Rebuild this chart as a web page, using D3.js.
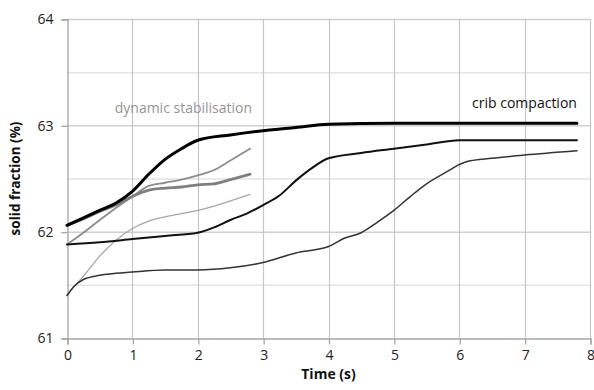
<!DOCTYPE html>
<html>
<head>
<meta charset="utf-8">
<script src="https://cdn.jsdelivr.net/npm/d3@7"></script>
<style>
  html, body { margin: 0; padding: 0; background: #fff; }
  svg { display: block; }
  text { font-family: "Open Sans", "Liberation Sans", sans-serif; }
</style>
</head>
<body>
<svg id="chart" width="594" height="390"></svg>
<script>
// ---- data ----
const xTicks = [0, 1, 2, 3, 4, 5, 6, 7, 8];
const yTicks = [61, 62, 63, 64];
const yMinorTicks = [61.5, 62.5, 63.5];

// crib compaction curves
const cribTopT = [0, 0.25, 0.5, 0.75, 1, 1.25, 1.5, 1.75, 2, 2.5, 3, 3.5, 4, 5, 6, 7, 7.8];
const cribTopV = [62.06, 62.13, 62.20, 62.27, 62.38, 62.54, 62.68, 62.78, 62.86, 62.91, 62.95, 62.98, 63.01, 63.02, 63.02, 63.02, 63.02];

const cribMidT = [0, 0.5, 1, 1.5, 2, 2.25, 2.5, 2.75, 3, 3.25, 3.5, 3.75, 4, 4.5, 5, 5.5, 6, 7, 7.8];
const cribMidV = [61.88, 61.90, 61.93, 61.96, 61.99, 62.04, 62.11, 62.17, 62.25, 62.34, 62.48, 62.60, 62.69, 62.74, 62.78, 62.82, 62.86, 62.86, 62.86];

const cribLowT = [0, 0.1, 0.25, 0.5, 1, 1.5, 2, 2.5, 3, 3.5, 4, 4.25, 4.5, 4.75, 5, 5.25, 5.5, 5.8, 6, 6.12, 6.5, 7, 7.8];
const cribLowV = [61.40, 61.48, 61.55, 61.59, 61.62, 61.64, 61.64, 61.66, 61.71, 61.80, 61.86, 61.94, 61.99, 62.09, 62.20, 62.33, 62.45, 62.56, 62.63, 62.66, 62.69, 62.72, 62.76];

// dynamic stabilisation curves
const dynAT = [0, 0.25, 0.5, 1, 1.25, 1.5, 1.75, 2, 2.25, 2.5, 2.8];
const dynAV = [61.88, 61.99, 62.11, 62.33, 62.43, 62.46, 62.49, 62.53, 62.58, 62.67, 62.78];

const dynBT = [0, 0.25, 0.5, 0.75, 1, 1.25, 1.5, 1.75, 2, 2.25, 2.5, 2.8];
const dynBV = [62.06, 62.12, 62.19, 62.25, 62.33, 62.39, 62.41, 62.42, 62.44, 62.45, 62.49, 62.54];

const dynCT = [0, 0.1, 0.25, 0.5, 0.75, 1, 1.25, 1.5, 1.75, 2, 2.25, 2.5, 2.8];
const dynCV = [61.40, 61.48, 61.58, 61.77, 61.92, 62.03, 62.10, 62.14, 62.17, 62.20, 62.24, 62.29, 62.35];

const seriesList = [
  { t: dynCT, v: dynCV, color: "#a6a6a6", width: 1.3 },
  { t: dynAT, v: dynAV, color: "#8c8c8c", width: 1.8 },
  { t: dynBT, v: dynBV, color: "#7f7f7f", width: 2.8 },
  { t: cribLowT, v: cribLowV, color: "#333333", width: 1.5 },
  { t: cribMidT, v: cribMidV, color: "#111111", width: 2.0 },
  { t: cribTopT, v: cribTopV, color: "#000000", width: 3.0 }
];

// ---- layout ----
const svg = d3.select("#chart");
const plot = { left: 67, right: 590, top: 19, bottom: 338 };

const x = d3.scaleLinear().domain([0, 8]).range([plot.left, plot.right]);
const y = d3.scaleLinear().domain([61, 64]).range([plot.bottom, plot.top]);

// minor horizontal gridlines
svg.append("g").selectAll("line").data(yMinorTicks).join("line")
  .attr("x1", plot.left).attr("x2", plot.right)
  .attr("y1", d => y(d) + 0.5).attr("y2", d => y(d) + 0.5)
  .attr("stroke", "#e3e3e3").attr("stroke-width", 1.5);

// major horizontal gridlines
svg.append("g").selectAll("line").data(yTicks.slice(1)).join("line")
  .attr("x1", plot.left).attr("x2", plot.right)
  .attr("y1", d => y(d) + 0.5).attr("y2", d => y(d) + 0.5)
  .attr("stroke", "#cfcfcf").attr("stroke-width", 1.5);

// vertical gridlines
svg.append("g").selectAll("line").data(xTicks.slice(1)).join("line")
  .attr("x1", d => Math.round(x(d)) + 0.5).attr("x2", d => Math.round(x(d)) + 0.5)
  .attr("y1", plot.top).attr("y2", plot.bottom)
  .attr("stroke", "#c6c6c6").attr("stroke-width", 1.2);

// axes
const yAxis = d3.axisLeft(y).tickValues(yTicks).tickSize(6).tickPadding(8).tickFormat(d3.format("d"));
const gy = svg.append("g").attr("transform", `translate(${plot.left + 0.5},0.5)`).call(yAxis);
gy.select(".domain").attr("stroke", "#a6a6a6").attr("stroke-width", 1.3);
gy.selectAll(".tick line").attr("stroke", "#a6a6a6").attr("stroke-width", 1.3);
gy.selectAll(".tick text").attr("fill", "#222").style("font-size", "14px").style("font-family", "Open Sans, sans-serif");

const xAxis = d3.axisBottom(x).tickValues(xTicks).tickSize(6).tickPadding(6).tickFormat(d3.format("d"));
const gx = svg.append("g").attr("transform", `translate(0.5,${plot.bottom + 0.5})`).call(xAxis);
gx.select(".domain").attr("stroke", "#a6a6a6").attr("stroke-width", 1.3);
gx.selectAll(".tick line").attr("stroke", "#a6a6a6").attr("stroke-width", 1.3);
gx.selectAll(".tick text").attr("fill", "#222").style("font-size", "14px").style("font-family", "Open Sans, sans-serif");

// lines
const line = d3.line()
  .x(d => x(d[0]))
  .y(d => y(d[1]))
  .curve(d3.curveMonotoneX);

svg.append("g").selectAll("path").data(seriesList).join("path")
  .attr("d", s => line(s.t.map((t, i) => [t, s.v[i]])))
  .attr("fill", "none")
  .attr("stroke", s => s.color)
  .attr("stroke-width", s => s.width)
  .attr("stroke-linejoin", "round")
  .attr("stroke-linecap", "round");

// annotations
svg.append("text")
  .attr("x", x(0.73)).attr("y", y(63.12))
  .attr("fill", "#959595")
  .style("font-size", "14px")
  .text("dynamic stabilisation");

svg.append("text")
  .attr("x", x(7.8)).attr("y", y(63.16))
  .attr("text-anchor", "end")
  .attr("fill", "#111")
  .style("font-size", "14px")
  .text("crib compaction");

// axis titles
svg.append("text")
  .attr("x", x(4)).attr("y", 379)
  .attr("text-anchor", "middle")
  .attr("fill", "#111")
  .style("font-size", "14px").style("font-weight", "bold")
  .text("Time (s)");

svg.append("text")
  .attr("transform", `translate(20,${(plot.top + plot.bottom) / 2}) rotate(-90)`)
  .attr("text-anchor", "middle")
  .attr("fill", "#111")
  .style("font-size", "13.5px").style("font-weight", "bold")
  .text("solid fraction (%)");
</script>
</body>
</html>
